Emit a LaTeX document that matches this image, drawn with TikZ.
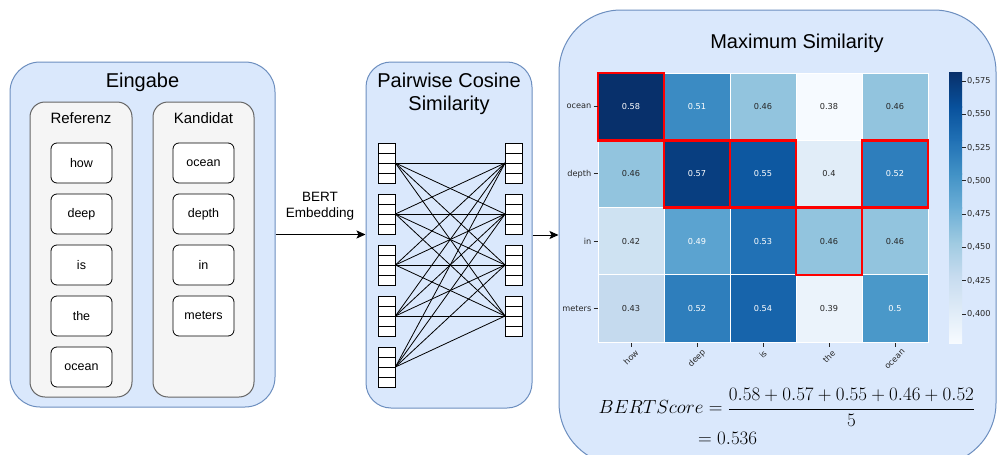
\RequirePackage{fix-cm}
\documentclass[tikz,border=0pt]{standalone}
\usepackage[no-math]{fontspec}
\setmainfont{Liberation Sans}
\newfontfamily\plotfont{DejaVu Sans}
\usetikzlibrary{arrows.meta}

% diagram colours
\definecolor{panelfill}{HTML}{DAE8FC}
\definecolor{panelline}{HTML}{6C8EBF}
\definecolor{groupfill}{HTML}{F5F5F5}
\definecolor{groupline}{HTML}{666666}
\definecolor{plottext}{HTML}{262626}

% heat map cell colours (Blues)
\definecolor{b58}{RGB}{8,48,107}
\definecolor{b57}{RGB}{8,62,128}
\definecolor{b55}{RGB}{13,88,161}
\definecolor{b54}{RGB}{23,100,171}
\definecolor{b53}{RGB}{33,113,181}
\definecolor{b52}{RGB}{46,126,188}
\definecolor{b51}{RGB}{59,139,195}
\definecolor{b50}{RGB}{74,152,201}
\definecolor{b49}{RGB}{91,163,208}
\definecolor{b46}{RGB}{146,196,222}
\definecolor{b43}{RGB}{197,218,238}
\definecolor{b42}{RGB}{206,226,242}
\definecolor{b40}{RGB}{225,237,248}
\definecolor{b39}{RGB}{235,243,251}
\definecolor{b38}{RGB}{246,250,255}

% colour bar stops
\definecolor{s0}{RGB}{247,251,255}
\definecolor{s1}{RGB}{222,235,247}
\definecolor{s2}{RGB}{198,219,239}
\definecolor{s3}{RGB}{158,202,225}
\definecolor{s4}{RGB}{107,174,214}
\definecolor{s5}{RGB}{66,146,198}
\definecolor{s6}{RGB}{33,113,181}
\definecolor{s7}{RGB}{8,81,156}
\definecolor{s8}{RGB}{8,48,107}

\begin{document}
\begin{tikzpicture}[x=1pt,y=-1pt,
  panel/.style={draw=panelline, fill=panelfill, line width=1, inner sep=0},
  group/.style={draw=groupline, fill=groupfill, line width=1, rounded corners=15, inner sep=0},
  word/.style={draw=black, fill=white, rounded corners=6, line width=0.8,
    minimum width=61, minimum height=40, inner sep=0, font=\fontsize{12.5}{15}\selectfont},
  title/.style={font=\fontsize{20}{23}\selectfont, align=center},
  subtitle/.style={font=\fontsize{15}{18}\selectfont},
  vec/.style={draw=black, fill=white, line width=0.8, minimum width=17, minimum height=40, inner sep=0},
  link/.style={draw=black, line width=0.8},
  flow/.style={draw=black, line width=1, -{Stealth[length=9, width=8, inset=2]}},
  cellnum/.style={font=\plotfont\fontsize{8.2}{10}\selectfont, inner sep=0},
  axislabel/.style={font=\plotfont\fontsize{8.2}{10}\selectfont, text=plottext, inner sep=0},
  maxbox/.style={draw=red, line width=2.5},
  tickline/.style={draw=plottext, line width=0.8},
  formula/.style={anchor=base west, inner sep=0, font=\fontsize{19}{23}\selectfont},
]
\useasboundingbox (0,0) rectangle (997,455);

% ---------- input panel ----------
\node[panel, rounded corners=30, minimum width=265, minimum height=345] (inp) at (142.5,234.5) {};
\node[title] (inpT) at (142.5,82) {Eingabe};

\node[group, minimum width=102, minimum height=295] (ref) at (81,249.5) {};
\node[subtitle] (refT) at (81,118) {Referenz};
\node[group, minimum width=101, minimum height=295] (cand) at (203.5,249.5) {};
\node[subtitle] (candT) at (203.5,118) {Kandidat};

\foreach \i/\w/\y in {1/how/163, 2/deep/214, 3/is/265, 4/the/316, 5/ocean/367}
  \node[word] (r\i) at (81.5,\y) {\w};
\foreach \i/\w/\y in {1/ocean/163, 2/depth/214, 3/in/265, 4/meters/316}
  \node[word] (k\i) at (203.5,\y) {\w};

% ---------- pairwise cosine similarity panel ----------
\node[panel, rounded corners=25, minimum width=166, minimum height=346] (pw) at (449,235) {};
\node[title] (pwT) at (449,93.5) {Pairwise Cosine\\Similarity};

\foreach \i/\y in {1/163, 2/214, 3/265, 4/316, 5/367} {
  \node[vec] (L\i) at (386.5,\y) {};
  \foreach \d in {-10,0,10}
    \draw[line width=0.8] (378,{\y+\d}) -- (395,{\y+\d});
}
\foreach \j/\y in {1/163, 2/214, 3/265, 4/316} {
  \node[vec] (R\j) at (514,\y) {};
  \foreach \d in {-10,0,10}
    \draw[line width=0.8] (505.5,{\y+\d}) -- (522.5,{\y+\d});
}
\foreach \i in {1,...,5}
  \foreach \j in {1,...,4}
    \draw[link] (L\i.east) -- (R\j.west);

% ---------- maximum similarity panel ----------
\node[panel, rounded corners=62, minimum width=437, minimum height=455] (ms) at (777.5,237.5) {};
\node[title] (msT) at (797,43) {Maximum Similarity};

% connectors between the panels
\draw[flow] (inp.east) -- (inp.east -| pw.west);
\node[font=\fontsize{13.5}{16}\selectfont, align=center] (emb) at (320,206) {BERT\\Embedding};
\draw[flow] (pw.east) -- (pw.east -| ms.west);

% heat map cells
\foreach \r/\c/\v/\col/\tc in {
  1/1/0.58/b58/white, 1/2/0.51/b51/white, 1/3/0.46/b46/plottext, 1/4/0.38/b38/plottext, 1/5/0.46/b46/plottext,
  2/1/0.46/b46/plottext, 2/2/0.57/b57/white, 2/3/0.55/b55/white, 2/4/0.4/b40/plottext, 2/5/0.52/b52/white,
  3/1/0.42/b42/plottext, 3/2/0.49/b49/white, 3/3/0.53/b53/white, 3/4/0.46/b46/plottext, 3/5/0.46/b46/plottext,
  4/1/0.43/b43/plottext, 4/2/0.52/b52/white, 4/3/0.54/b54/white, 4/4/0.39/b39/plottext, 4/5/0.5/b50/white} {
  \pgfmathsetmacro\xa{598+66*(\c-1)}
  \pgfmathsetmacro\ya{73+67.25*(\r-1)}
  \draw[fill=\col, draw=white, line width=1] (\xa,\ya) rectangle ({\xa+66},{\ya+67.25});
  \node[cellnum, text=\tc] (m\r\c) at ({\xa+33},{\ya+33.6}) {\v};
}

% highlighted row maxima
\foreach \r/\c in {1/1, 2/2, 2/3, 2/5, 3/4} {
  \pgfmathsetmacro\xa{598+66*(\c-1)}
  \pgfmathsetmacro\ya{73+67.25*(\r-1)}
  \draw[maxbox] (\xa,\ya) rectangle ({\xa+66},{\ya+67.25});
}

% row axis
\foreach \r/\t in {1/ocean, 2/depth, 3/in, 4/meters} {
  \pgfmathsetmacro\yc{73+67.25*(\r-0.5)}
  \draw[tickline] (593.5,\yc) -- (597.5,\yc);
  \node[axislabel, anchor=east] (ry\r) at (591.5,\yc) {\t};
}

% column axis
\foreach \c/\t/\yy in {1/how/357.5, 2/deep/358.7, 3/is/354.3, 4/the/356.5, 5/ocean/359.5} {
  \pgfmathsetmacro\xc{598+66*(\c-0.5)}
  \draw[tickline] (\xc,343) -- (\xc,347);
  \node[axislabel, rotate=45] (cx\c) at (\xc,\yy) {\t};
}

% colour bar
\foreach \k/\ca/\cb in {0/s0/s1, 1/s1/s2, 2/s2/s3, 3/s3/s4, 4/s4/s5, 5/s5/s6, 6/s6/s7, 7/s7/s8}
  \shade[bottom color=\ca, top color=\cb]
    (949,{343-33.75*\k+0.3}) rectangle (962,{343-33.75*(\k+1)-0.3});
\foreach \k/\t in {0/{0,400}, 1/{0,425}, 2/{0,450}, 3/{0,475}, 4/{0,500}, 5/{0,525}, 6/{0,550}, 7/{0,575}} {
  \pgfmathsetmacro\yt{314-33.286*\k}
  \draw[tickline] (962,\yt) -- (965.5,\yt);
  \node[axislabel, anchor=west] (cb\k) at (967,\yt) {\t};
}

% score formula
\node[formula] (score) at (598.5,413.7)
  {$\displaystyle BERTScore = \frac{0.58 + 0.57 + 0.55 + 0.46 + 0.52}{5}$};
\node[formula] (result) at (698,444)
  {$= 0.536$};
\end{tikzpicture}
\end{document}
